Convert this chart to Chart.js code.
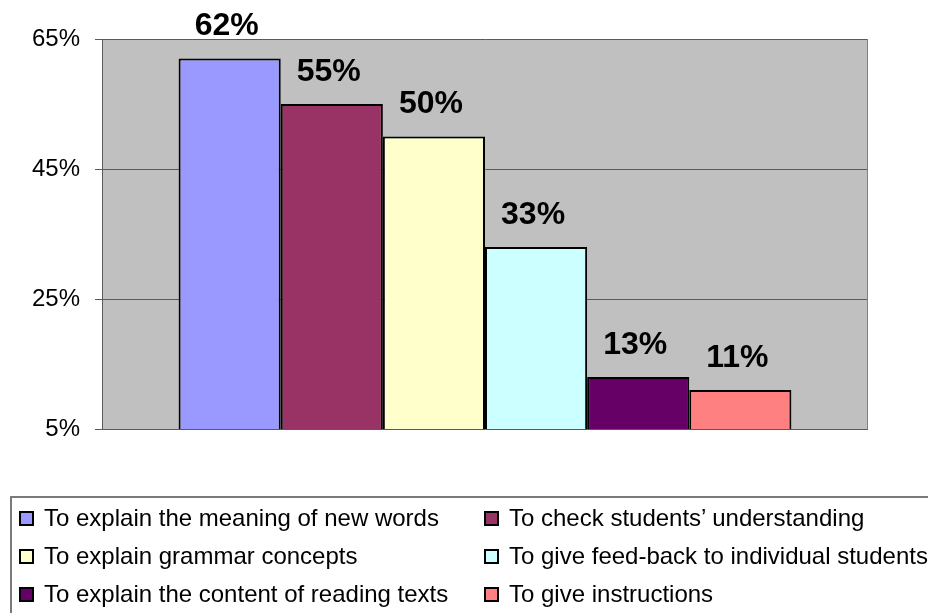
<!DOCTYPE html>
<html>
<head>
<meta charset="utf-8">
<script src="https://cdn.jsdelivr.net/npm/chart.js@4.4.1/dist/chart.umd.min.js"></script>
<style>
    html, body { margin: 0; padding: 0; background: #ffffff; overflow: hidden; }
    .wrapper { position: relative; width: 928px; height: 613px; }
    #reasons-chart { position: absolute; left: 0; top: 0; }
    .legend {
        position: absolute;
        left: 10px;
        top: 496px;
        width: 960px;
        height: 200px;
        border: 2px solid #7a7a7a;
        box-sizing: border-box;
        font-family: 'Liberation Sans', Arial, sans-serif;
        font-size: 24px;
        color: #000;
    }
    .legend-item { position: absolute; display: flex; align-items: center; white-space: nowrap; }
    .legend-box { width: 11px; height: 11px; border: 2px solid #000; margin-right: 10px; }
</style>
</head>
<body>
<div class="wrapper">
    <canvas id="reasons-chart" width="928" height="613"></canvas>
    <div class="legend" id="legend"></div>
</div>
<script>
const reasons = [
    'To explain the meaning of new words',
    'To check students\u2019 understanding',
    'To explain grammar concepts',
    'To give feed-back to individual students',
    'To explain the content of reading texts',
    'To give instructions',
];
const percents = [62, 55, 50, 33, 13, 11];
const barColors = ['#9999FF', '#993366', '#FFFFCC', '#CCFFFF', '#660066', '#FF8080'];
const yTicks = [5, 25, 45, 65];

const FONT = "'Liberation Sans', Arial, sans-serif";

// gray plot background plus its frame
const plotArea = {
    id: 'plotArea',
    beforeDraw(chart) {
        const { ctx, chartArea: a } = chart;
        ctx.save();
        ctx.fillStyle = '#C0C0C0';
        ctx.fillRect(a.left, a.top, a.right - a.left, a.bottom - a.top);
        ctx.restore();
    },
    afterDraw(chart) {
        const { ctx, chartArea: a } = chart;
        ctx.save();
        ctx.strokeStyle = '#808080';
        ctx.lineWidth = 1;
        ctx.beginPath();
        ctx.moveTo(a.right - 0.5, a.top);
        ctx.lineTo(a.right - 0.5, a.bottom);
        ctx.stroke();
        ctx.restore();
    },
};

// percentage printed above each bar
const valueLabels = {
    id: 'valueLabels',
    afterDatasetsDraw(chart) {
        const { ctx } = chart;
        ctx.save();
        ctx.font = 'bold 32px ' + FONT;
        ctx.fillStyle = '#000';
        ctx.textAlign = 'center';
        ctx.textBaseline = 'middle';
        chart.data.datasets.forEach((ds, i) => {
            const bar = chart.getDatasetMeta(i).data[0];
            ctx.fillText(ds.data[0] + '%', bar.x - 3, bar.y - 32);
        });
        ctx.restore();
    },
};

const graph = document.getElementById('reasons-chart');
new Chart(graph, {
    type: 'bar',
    data: {
        labels: [''],
        datasets: reasons.map((label, i) => ({
            label: label,
            data: [percents[i]],
            backgroundColor: barColors[i],
            borderColor: '#000',
            borderWidth: 2,
            borderSkipped: false,
            categoryPercentage: 0.8,
            barPercentage: 1.0,
        })),
    },
    options: {
        responsive: false,
        animation: false,
        layout: { padding: { left: 0, top: 39, right: 60, bottom: 184 } },
        plugins: {
            legend: { display: false },
            title: { display: false },
            tooltip: { enabled: false },
        },
        scales: {
            x: { display: false },
            y: {
                min: 5,
                max: 65,
                afterFit: (scale) => { scale.width = 102; },
                afterBuildTicks: (scale) => { scale.ticks = yTicks.map((v) => ({ value: v })); },
                ticks: {
                    padding: 15,
                    color: '#000',
                    font: { family: FONT, size: 24 },
                    callback: (v) => v + '%',
                },
                grid: { color: '#5a5a5a', lineWidth: 1, tickLength: 7, drawTicks: true },
                border: { color: '#5a5a5a', width: 1 },
            },
        },
    },
    plugins: [plotArea, valueLabels],
});

// two-column legend under the plot
const legend = document.getElementById('legend');
reasons.forEach((label, i) => {
    const item = document.createElement('div');
    item.className = 'legend-item';
    item.style.left = (i % 2 === 0 ? 7 : 472) + 'px';
    item.style.top = (6 + Math.floor(i / 2) * 38) + 'px';
    const box = document.createElement('span');
    box.className = 'legend-box';
    box.style.background = barColors[i];
    const text = document.createElement('span');
    text.textContent = label;
    item.appendChild(box);
    item.appendChild(text);
    legend.appendChild(item);
});
</script>
</body>
</html>
